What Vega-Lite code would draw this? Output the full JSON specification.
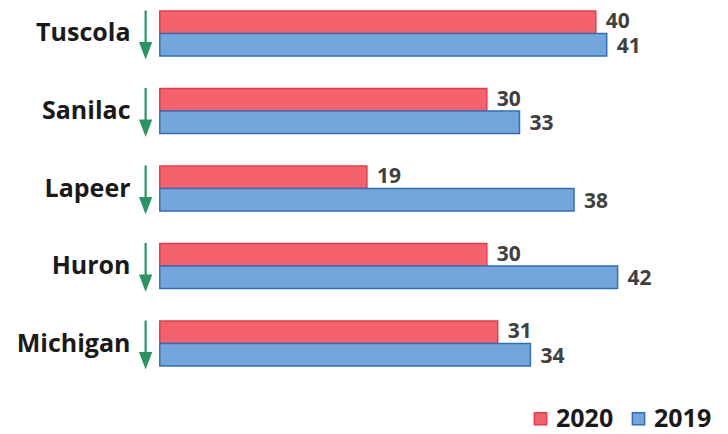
{
  "$schema": "https://vega.github.io/schema/vega-lite/v6.json",
  "width": 545,
  "height": 377,
  "autosize": "none",
  "padding": {"left": 138, "top": 0, "right": 45, "bottom": 57},
  "background": "white",
  "config": {"view": {"stroke": null}, "font": "Open Sans"},
  "data": {
    "values": [
      {"county": "Tuscola", "year": "2020", "value": 40},
      {"county": "Tuscola", "year": "2019", "value": 41},
      {"county": "Sanilac", "year": "2020", "value": 30},
      {"county": "Sanilac", "year": "2019", "value": 33},
      {"county": "Lapeer", "year": "2020", "value": 19},
      {"county": "Lapeer", "year": "2019", "value": 38},
      {"county": "Huron", "year": "2020", "value": 30},
      {"county": "Huron", "year": "2019", "value": 42},
      {"county": "Michigan", "year": "2020", "value": 31},
      {"county": "Michigan", "year": "2019", "value": 34}
    ]
  },
  "encoding": {
    "y": {
      "field": "county",
      "type": "nominal",
      "sort": ["Tuscola", "Sanilac", "Lapeer", "Huron", "Michigan"],
      "scale": {"paddingInner": 0.42, "paddingOuter": 0.142},
      "axis": {
        "title": null,
        "domain": false,
        "ticks": false,
        "labelFont": "Open Sans",
        "labelFontSize": 25,
        "labelFontWeight": "bold",
        "labelColor": "#1a1a1a",
        "labelPadding": 8
      }
    }
  },
  "layer": [
    {
      "mark": {"type": "bar", "strokeWidth": 1.5},
      "encoding": {
        "x": {"field": "value", "type": "quantitative", "scale": {"domain": [-2, 48], "nice": false, "zero": false}, "axis": null},
        "yOffset": {"field": "year", "type": "nominal", "sort": ["2020", "2019"]},
        "color": {
          "field": "year",
          "type": "nominal",
          "sort": ["2020", "2019"],
          "scale": {"domain": ["2020", "2019"], "range": ["#f4626e", "#73a6da"]},
          "legend": {
            "title": null,
            "orient": "none",
            "legendX": 390,
            "legendY": 406,
            "direction": "horizontal",
            "symbolType": "square",
            "symbolSize": 150,
            "symbolStrokeWidth": 1.5,
            "labelFont": "Open Sans",
            "labelFontSize": 25,
            "labelFontWeight": "bold",
            "labelColor": "#1a1a1a",
            "labelOffset": 3,
            "columnPadding": 12
          }
        },
        "stroke": {
          "field": "year",
          "type": "nominal",
          "scale": {"domain": ["2020", "2019"], "range": ["#e83a48", "#2f6fba"]},
          "legend": null
        }
      }
    },
    {
      "transform": [{"filter": "datum.year === '2020'"}],
      "mark": {"type": "text", "align": "left", "baseline": "middle", "dx": 10, "dy": 0, "fontSize": 21, "fontWeight": "bold", "color": "#404040", "font": "Open Sans"},
      "encoding": {
        "x": {"field": "value", "type": "quantitative"},
        "yOffset": {"field": "year", "type": "nominal", "sort": ["2020", "2019"]},
        "text": {"field": "value", "type": "quantitative"}
      }
    },
    {
      "transform": [{"filter": "datum.year === '2019'"}],
      "mark": {"type": "text", "align": "left", "baseline": "middle", "dx": 10, "dy": 2, "fontSize": 21, "fontWeight": "bold", "color": "#404040", "font": "Open Sans"},
      "encoding": {
        "x": {"field": "value", "type": "quantitative"},
        "yOffset": {"field": "year", "type": "nominal", "sort": ["2020", "2019"]},
        "text": {"field": "value", "type": "quantitative"}
      }
    },
    {
      "transform": [{"filter": "datum.year === '2020'"}],
      "mark": {
        "type": "point",
        "shape": "M0,-1L0,0.45M-0.22,0.42L0.22,0.42L0,1Z",
        "filled": true,
        "size": 2100,
        "fill": "#2a9563",
        "stroke": "#2a9563",
        "strokeWidth": 2.2,
        "opacity": 1
      },
      "encoding": {
        "x": {"datum": -1.3, "type": "quantitative"}
      }
    }
  ]
}
